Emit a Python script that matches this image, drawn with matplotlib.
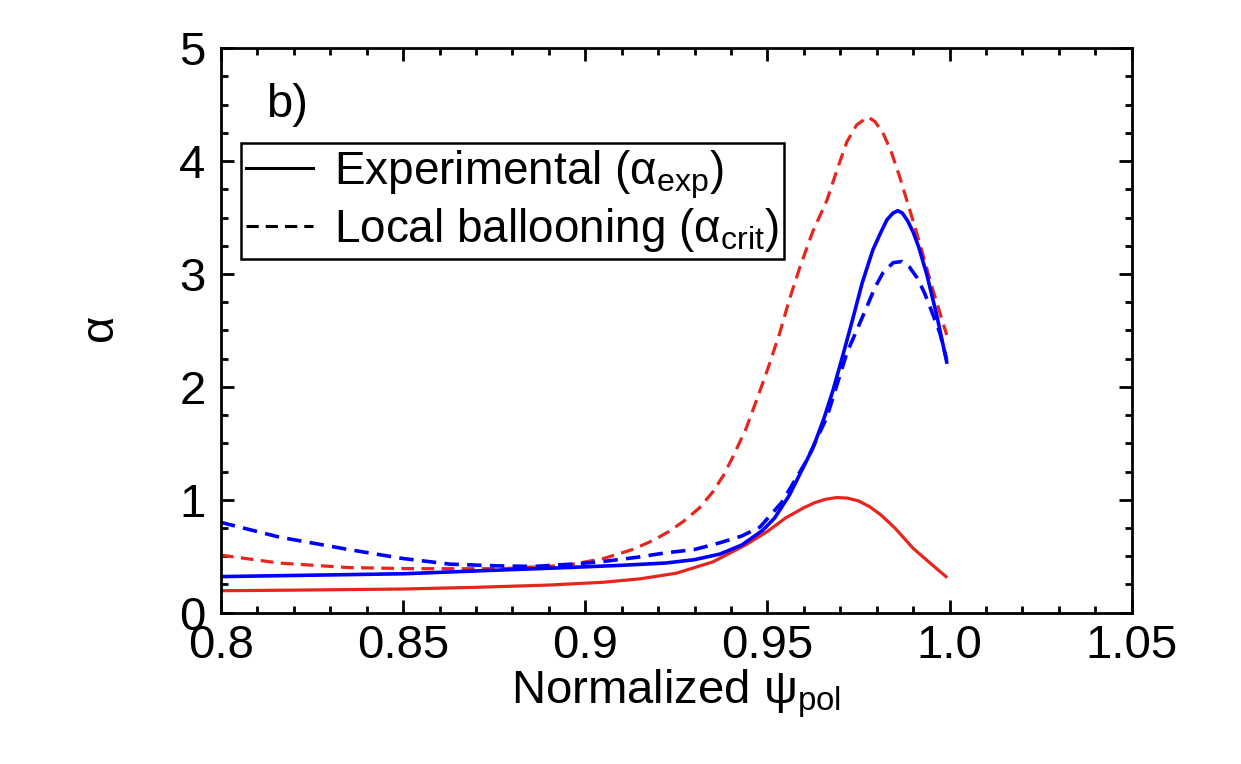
import numpy as np
import matplotlib.pyplot as plt
from matplotlib.ticker import MultipleLocator

plt.rcParams['font.family'] = ['Liberation Sans', 'DejaVu Sans']
plt.rcParams['mathtext.fontset'] = 'custom'
plt.rcParams['mathtext.rm'] = 'Liberation Sans'
plt.rcParams['mathtext.it'] = 'Liberation Sans'

# red: experimental alpha and ballooning limit
psi_red_exp = [0.80, 0.82, 0.85, 0.87, 0.89, 0.905, 0.915, 0.925, 0.935, 0.944,
               0.950, 0.955, 0.960, 0.963, 0.966, 0.969, 0.972, 0.975, 0.978,
               0.981, 0.985, 0.990, 0.995, 0.999]
alpha_red_exp = [0.195, 0.20, 0.21, 0.225, 0.245, 0.27, 0.30, 0.35, 0.45, 0.60,
                 0.72, 0.84, 0.93, 0.975, 1.005, 1.02, 1.015, 0.99, 0.94,
                 0.87, 0.75, 0.57, 0.43, 0.32]

psi_red_crit = [0.80, 0.816, 0.835, 0.853, 0.877, 0.895, 0.905, 0.913, 0.9186,
                0.923, 0.927, 0.9314, 0.935, 0.938, 0.9405, 0.944, 0.9471, 0.950,
                0.9534, 0.956, 0.9589, 0.9625, 0.9663, 0.9695, 0.9718, 0.9745,
                0.9776, 0.9795, 0.9817, 0.984, 0.9863, 0.9910, 0.9954, 0.9992]
alpha_red_crit = [0.51, 0.44, 0.40, 0.39, 0.39, 0.42, 0.48, 0.56, 0.64,
                  0.72, 0.81, 0.93, 1.07, 1.22, 1.38, 1.62, 1.89, 2.15,
                  2.48, 2.77, 3.06, 3.38, 3.65, 3.96, 4.17, 4.32,
                  4.39, 4.35, 4.25, 4.08, 3.86, 3.36, 2.86, 2.46]

# blue: experimental alpha and ballooning limit
psi_blue_exp = [0.80, 0.82, 0.85, 0.87, 0.895, 0.91, 0.922, 0.93, 0.937, 0.943,
                0.9487, 0.952, 0.956, 0.9625, 0.9655, 0.968, 0.9707, 0.9734,
                0.976, 0.9789, 0.981, 0.9828, 0.9845, 0.9858, 0.987, 0.9885,
                0.990, 0.9915, 0.9937, 0.9965, 0.9992]
alpha_blue_exp = [0.32, 0.33, 0.345, 0.37, 0.40, 0.42, 0.44, 0.47, 0.52, 0.60,
                  0.73, 0.84, 1.04, 1.46, 1.72, 1.97, 2.28, 2.60,
                  2.92, 3.21, 3.36, 3.48, 3.54, 3.56, 3.54, 3.47,
                  3.37, 3.24, 3.00, 2.63, 2.22]

psi_blue_crit = [0.80, 0.816, 0.835, 0.85, 0.863, 0.876, 0.886, 0.896, 0.904,
                 0.914, 0.922, 0.930, 0.937, 0.943, 0.948, 0.954, 0.9608,
                 0.9663, 0.9718, 0.9773, 0.9795, 0.9817, 0.9845, 0.9869,
                 0.9890, 0.9910, 0.9930, 0.9946, 0.9973, 0.9992]
alpha_blue_crit = [0.80, 0.67, 0.56, 0.48, 0.43, 0.415, 0.41, 0.43, 0.45,
                   0.49, 0.53, 0.56, 0.62, 0.68, 0.76, 0.98, 1.35,
                   1.73, 2.30, 2.71, 2.88, 3.01, 3.10, 3.11,
                   3.06, 2.97, 2.84, 2.71, 2.48, 2.24]

red = '#e8251c'
blue = '#0000ff'
dash = (4.0, 2.3)
fs = 34

fig = plt.figure(figsize=(12.41, 7.64), dpi=100, facecolor='white')
ax = fig.add_axes([0.178, 0.198, 0.734, 0.739])

ax.plot(psi_red_exp, alpha_red_exp, '-', color=red, lw=2.3)
ax.plot(psi_red_crit, alpha_red_crit, '--', color=red, lw=2.3, dashes=dash)
ax.plot(psi_blue_crit, alpha_blue_crit, '--', color=blue, lw=2.6, dashes=dash)
ax.plot(psi_blue_exp, alpha_blue_exp, '-', color=blue, lw=2.6)

# legend entries in black
h1, = ax.plot([], [], '-', color='black', lw=2.2)
h2, = ax.plot([], [], '--', color='black', lw=2.2, dashes=dash)
leg = ax.legend([h1, h2],
                [r'Experimental ($\mathrm{\alpha_{exp}}$)',
                 r'Local ballooning ($\mathrm{\alpha_{crit}}$)'],
                loc='upper left', bbox_to_anchor=(0.022, 0.832),
                borderaxespad=0, fontsize=fs - 1, handlelength=1.45,
                handletextpad=0.45, borderpad=0.12, labelspacing=0.1,
                fancybox=False, framealpha=1, edgecolor='black')
leg.get_frame().set_linewidth(1.8)

ax.text(0.05, 0.90, 'b)', transform=ax.transAxes, fontsize=fs,
        ha='left', va='center')

ax.set_xlim(0.8, 1.05)
ax.set_ylim(0, 5)
ax.xaxis.set_major_locator(MultipleLocator(0.05))
ax.xaxis.set_minor_locator(MultipleLocator(0.01))
ax.yaxis.set_major_locator(MultipleLocator(1))
ax.yaxis.set_minor_locator(MultipleLocator(0.25))
ax.set_xticks([0.8, 0.85, 0.9, 0.95, 1.0, 1.05])
ax.set_xticklabels(['0.8', '0.85', '0.9', '0.95', '1.0', '1.05'])

ax.tick_params(which='both', direction='in', top=True, right=True,
               width=2, labelsize=fs)
ax.tick_params(which='major', length=9.5)
ax.tick_params(which='minor', length=5)
ax.tick_params(axis='x', pad=8)
ax.tick_params(axis='y', pad=11)
for s in ax.spines.values():
    s.set_linewidth(2)

ax.set_xlabel(r'Normalized $\mathrm{\psi_{pol}}$', fontsize=fs, labelpad=0)
ax.set_ylabel(r'$\mathrm{\alpha}$', fontsize=fs, labelpad=40)

fig.savefig('out.png', dpi=100)
